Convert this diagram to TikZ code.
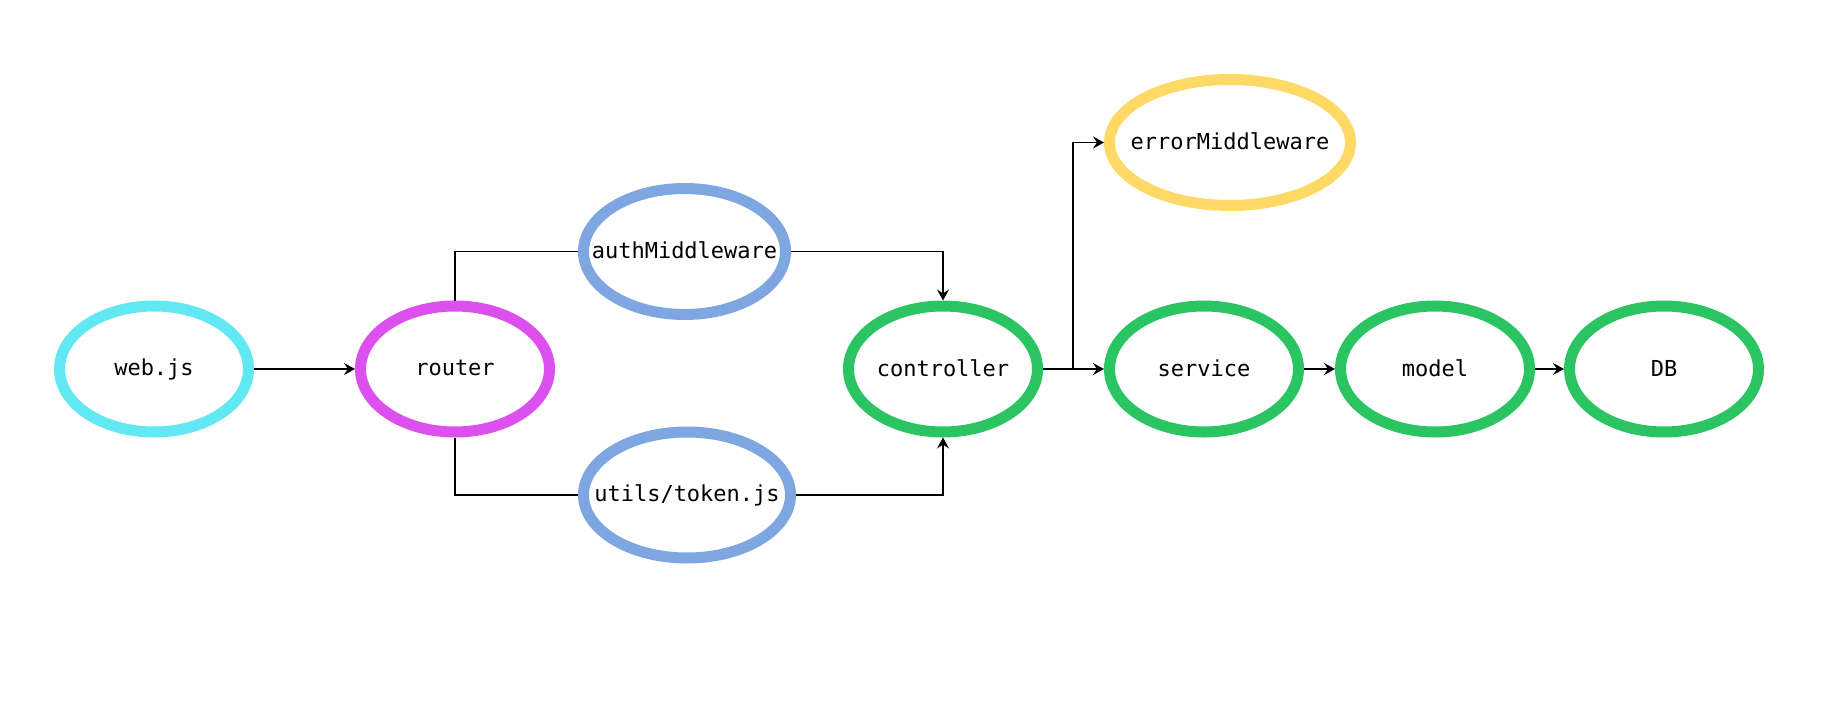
\documentclass[tikz,border=0pt]{standalone}
\usepackage{fontspec}
\setmonofont{DejaVu Sans Mono}
\usepackage{xcolor}
\usepackage{tikz}
\usetikzlibrary{shapes,arrows.meta,positioning,calc}
\definecolor{webcyan}{HTML}{62E8F2}
\definecolor{routermagenta}{HTML}{DC50EF}
\definecolor{authblue}{HTML}{7EA6E0}
\definecolor{layergreen}{HTML}{2BC462}
\definecolor{erroryellow}{HTML}{FFD966}
\tikzset{
    module/.style={ellipse, draw, line width=5.5pt, fill=white,
        minimum width=94.5pt, minimum height=63pt, inner sep=0pt,
        font=\ttfamily\fontsize{11pt}{13pt}\selectfont, text=black,
        execute at begin node={\raise1pt\hbox to 0pt\bgroup\hss},
        execute at end node={\hss\egroup}},
    flow/.style={draw=black, line width=0.65pt,
        -{Stealth[length=5.5pt,width=6pt,inset=2pt]}},
    link/.style={draw=black, line width=0.65pt},
}

\begin{document}
\begin{tikzpicture}[x=0.5pt, y=-0.5pt]
    \useasboundingbox (0,0) rectangle (1822,712);
    % entry and routing
    \node[module, draw=webcyan] (web) at (154,369) {web.js};
    \node[module, draw=routermagenta] (router) at (455,369) {router};
    \node[module, draw=authblue, minimum width=101pt] (auth) at (684.5,251.5) {authMiddleware};
    \node[module, draw=authblue, minimum width=103.5pt] (token) at (687,495) {utils/token.js};
    % layers
    \node[module, draw=layergreen] (controller) at (943,369) {controller};
    \node[module, draw=erroryellow, minimum width=120.5pt] (error) at (1230,142.5) {errorMiddleware};
    \node[module, draw=layergreen] (service) at (1204,369) {service};
    \node[module, draw=layergreen] (model) at (1435,369) {model};
    \node[module, draw=layergreen] (db) at (1664,369) {DB};
    \coordinate (split) at (1073,369);

    \draw[flow] (web.east) -- (router.west);
    \draw[link] (router.north) |- (auth.west);
    \draw[link] (router.south) |- (token.west);
    \draw[flow] (auth.east) -| (controller.north);
    \draw[flow] (token.east) -| (controller.south);
    \draw[flow] (controller.east) -- (service.west);
    \draw[flow] (split) |- (error.west);
    \draw[flow] (service.east) -- (model.west);
    \draw[flow] (model.east) -- (db.west);
\end{tikzpicture}
\end{document}
